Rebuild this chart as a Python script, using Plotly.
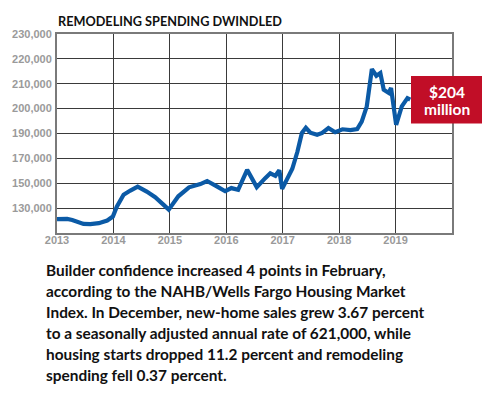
import numpy as np
import plotly.graph_objects as go

# ---- data (decimal years, spending) ----
years = [2013.00, 2013.18, 2013.27, 2013.47, 2013.59, 2013.74, 2013.89, 2013.99,
         2014.06, 2014.18, 2014.30, 2014.43, 2014.59, 2014.74, 2014.89, 2014.98,
         2015.15, 2015.34, 2015.54, 2015.66, 2015.84, 2015.98, 2016.09, 2016.21,
         2016.37, 2016.54, 2016.69, 2016.78, 2016.87, 2016.94, 2016.99, 2017.09,
         2017.17, 2017.26, 2017.34, 2017.41, 2017.49, 2017.61, 2017.70, 2017.81,
         2017.93, 2018.06, 2018.20, 2018.32, 2018.40, 2018.49, 2018.58, 2018.66,
         2018.73, 2018.79, 2018.88, 2018.92, 2019.01, 2019.11, 2019.21, 2019.26]
spending = [121.1, 121.3, 120.5, 117.3, 117.1, 117.9, 120.0, 123.2,
            131.2, 140.7, 144.1, 147.3, 143.3, 138.8, 132.6, 128.8,
            139.5, 146.7, 149.3, 151.8, 147.3, 143.6, 146.1, 144.7,
            160.8, 146.9, 154.1, 158.0, 156.0, 160.4, 145.5, 155.4,
            161.6, 175.3, 190.2, 192.3, 190.3, 189.0, 190.2, 192.2,
            190.5, 191.7, 191.4, 191.8, 194.8, 200.9, 215.9, 213.2,
            214.3, 207.6, 206.3, 208.3, 193.5, 200.9, 204.2, 203.6]  # thousands

# the printed axis is evenly gridded but its labels are not evenly spaced
grid_values = [110, 130, 150, 170, 190, 200, 210, 220, 230]   # thousands
tick_labels = ["130,000", "150,000", "170,000", "190,000",
               "200,000", "210,000", "220,000", "230,000"]
year_ticks = [2013, 2014, 2015, 2016, 2017, 2018, 2019]

title_text = "REMODELING SPENDING DWINDLED"
callout_lines = ["$204", "million"]
body_lines = [
    "Builder confidence increased 4 points in February,",
    "according to the NAHB/Wells Fargo Housing Market",
    "Index. In December, new-home sales grew 3.67 percent",
    "to a seasonally adjusted annual rate of 621,000, while",
    "housing starts dropped 11.2 percent and remodeling",
    "spending fell 0.37 percent.",
]

# map labelled values to the even grid the chart uses
grid_idx = list(range(len(grid_values)))
y_plot = np.interp(spending, grid_values, grid_idx)

W, H = 493, 414
OFF = 8  # page body margin offset
L, R, T, B = 57, 452, 34, 233   # target plot box in screenshot pixels
pw, ph = R - L, B - T

def px_x(x):
    return (x - L) / pw

def px_y(y):
    return (B - y) / ph

fig = go.Figure()
fig.add_trace(go.Scatter(
    x=years, y=y_plot, mode="lines",
    line=dict(color="#0B5AA6", width=4.2),
    hoverinfo="skip", showlegend=False,
))

grey_font = dict(family="Liberation Sans, Arial", size=11, color="#9a9a9a", weight="bold")

fig.update_layout(
    width=W, height=H,
    margin=dict(l=L - OFF, r=W - R + OFF, t=T - OFF, b=H - B + OFF),
    paper_bgcolor="white", plot_bgcolor="white",
    xaxis=dict(range=[2013, 2020], tickvals=year_ticks,
               ticktext=[str(y) for y in year_ticks],
               showgrid=True, gridcolor="#3a3a3a", gridwidth=1.2,
               showline=True, linecolor="#7a7a7a", linewidth=2, mirror=True,
               zeroline=False, tickfont=grey_font, ticks="", fixedrange=True,
               automargin=False, ticklabelstandoff=-4),
    yaxis=dict(range=[0, len(grid_values) - 1], tickvals=grid_idx[1:],
               ticktext=tick_labels,
               showgrid=True, gridcolor="#3a3a3a", gridwidth=1.2,
               showline=True, linecolor="#7a7a7a", linewidth=2, mirror=True,
               zeroline=False, tickfont=grey_font, ticks="", fixedrange=True,
               automargin=False, ticklabelstandoff=1),
)

# title
fig.add_annotation(text=title_text, xref="paper", yref="paper",
                   x=px_x(56), y=px_y(21), xanchor="left", yanchor="middle",
                   showarrow=False,
                   font=dict(family="Lato", size=12.7, color="#111", weight="bold"))

# callout box
fig.add_shape(type="rect", xref="paper", yref="paper",
              x0=px_x(411), x1=px_x(482), y0=px_y(123.5), y1=px_y(76),
              fillcolor="#C10E27", line=dict(width=0), layer="above")
for txt, yc in zip(callout_lines, [91.5, 109]):
    fig.add_annotation(text=txt, xref="paper", yref="paper",
                       x=px_x(446.5), y=px_y(yc), xanchor="center", yanchor="middle",
                       showarrow=False,
                       font=dict(family="Lato", size=15.5, color="white", weight="bold"))

# body text
for i, line in enumerate(body_lines):
    fig.add_annotation(text=line, xref="paper", yref="paper",
                       x=px_x(44), y=px_y(270 + i * 21), xanchor="left", yanchor="middle",
                       showarrow=False,
                       font=dict(family="Lato", size=15.4, color="#111", weight="bold"))

fig.write_html("out.html")
